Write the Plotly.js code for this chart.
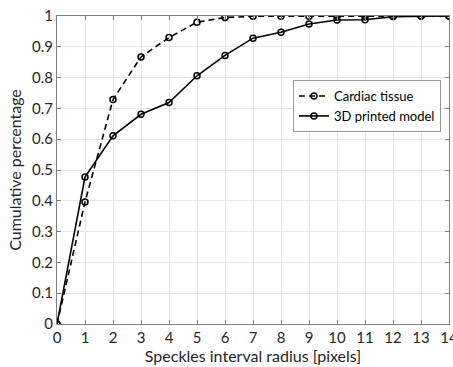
<!DOCTYPE html>
<html><head><meta charset="utf-8">
<script src="https://cdn.plot.ly/plotly-3.0.1.min.js"></script>
<style>html,body{margin:0;padding:0;background:#fff}</style>
</head><body>
<div id="chart" style="width:453px;height:367px"></div>
<script>
var radius = [0,1,2,3,4,5,6,7,8,9,10,11,12,13,14];
var cardiacTissue = [0,0.396,0.729,0.867,0.930,0.980,0.995,0.999,0.999,0.999,0.999,0.999,0.999,1,1];
var printedModel = [0,0.477,0.611,0.681,0.719,0.806,0.872,0.928,0.947,0.974,0.987,0.988,0.998,1,1];
var xTicks = [0,1,2,3,4,5,6,7,8,9,10,11,12,13,14];
var yTicks = [0,0.1,0.2,0.3,0.4,0.5,0.6,0.7,0.8,0.9,1];
var yTickText = ['0','0.1','0.2','0.3','0.4','0.5','0.6','0.7','0.8','0.9','1'];

var fontFam = 'Lato, Open Sans, sans-serif';
var txt = '#262626';
var traces = [
  {x: radius, y: cardiacTissue, name: 'Cardiac tissue', mode: 'lines+markers',
   line: {color: '#000', width: 1.6, dash: '6px,4px'},
   marker: {symbol: 'circle-open', size: 6, color: '#000', line: {width: 1.5}}},
  {x: radius, y: printedModel, name: '3D printed model', mode: 'lines+markers',
   line: {color: '#000', width: 1.6},
   marker: {symbol: 'circle-open', size: 6, color: '#000', line: {width: 1.5}}}
];
var layout = {
  width: 453, height: 367,
  margin: {l: 57, r: 4, t: 16, b: 43},
  paper_bgcolor: '#fff', plot_bgcolor: '#fff',
  font: {family: fontFam, size: 15, color: txt},
  showlegend: true,
  legend: {x: 0.602, y: 0.792, xanchor: 'left', yanchor: 'top',
           bgcolor: '#fff', bordercolor: '#999', borderwidth: 1,
           font: {family: fontFam, size: 13, color: '#000'},
           tracegroupgap: 0, itemwidth: 30},
  xaxis: {range: [0, 14], tickvals: xTicks, ticktext: xTicks.map(String),
          showgrid: true, gridcolor: '#e6e6e6', zeroline: false,
          showline: true, linecolor: '#808080', mirror: 'ticks',
          ticks: 'inside', ticklen: 4, tickcolor: '#808080',
          tickfont: {size: 15, color: txt}, automargin: false,
          ticklabeloverflow: 'allow',
          title: {text: 'Speckles interval radius [pixels]', font: {size: 16, color: txt}, standoff: 3}},
  yaxis: {range: [0, 1], tickvals: yTicks, ticktext: yTickText,
          showgrid: true, gridcolor: '#e6e6e6', zeroline: false,
          showline: true, linecolor: '#808080', mirror: 'ticks',
          ticks: 'inside', ticklen: 4, tickcolor: '#808080',
          tickfont: {size: 15, color: txt}, automargin: false,
          ticklabeloverflow: 'allow',
          title: {text: 'Cumulative percentage', font: {size: 16, color: txt}, standoff: 6}}
};
Plotly.newPlot('chart', traces, layout, {displayModeBar: false, staticPlot: true});
</script>
</body></html>
